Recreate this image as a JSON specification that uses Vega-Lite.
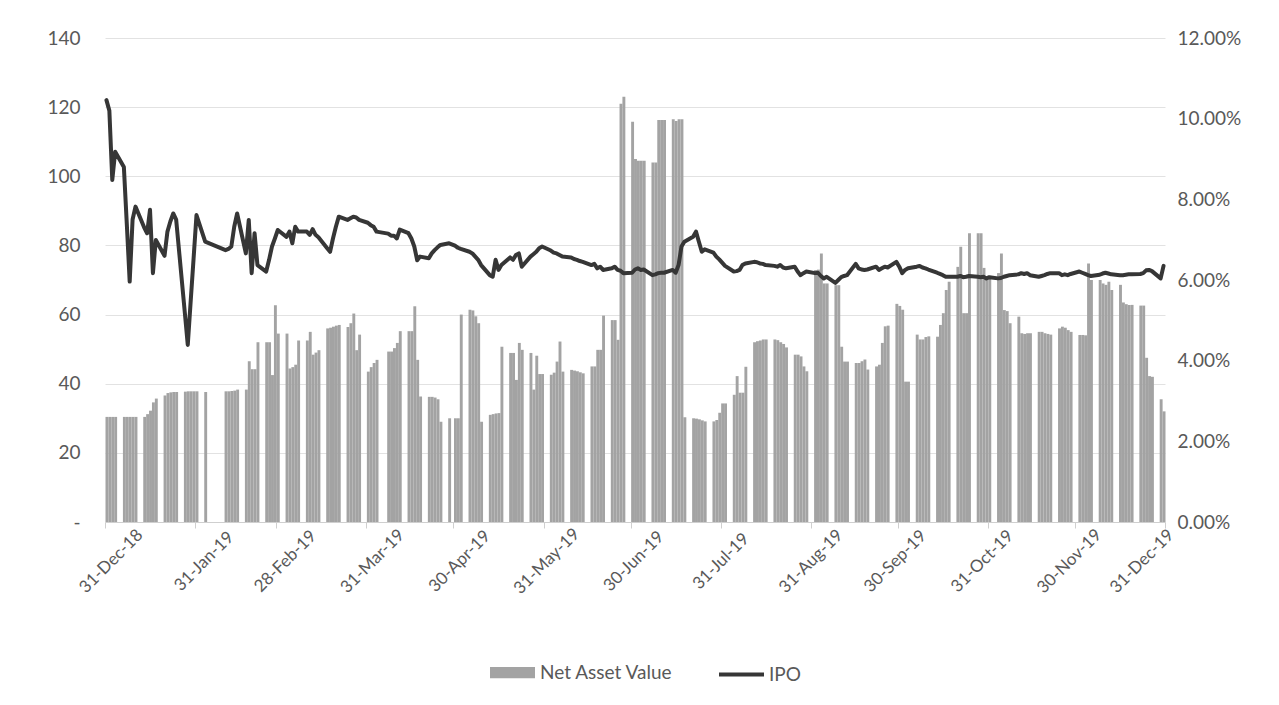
{
"$schema": "https://vega.github.io/schema/vega-lite/v6.json",
"width": 1060, "height": 484,
"autosize": {"type": "none"},
"padding": {"left": 105, "top": 38, "right": 114, "bottom": 183},
"background": "white",
"config": {"view": {"stroke": null}, "font": "Lato",
  "axis": {"labelFont": "Lato", "labelColor": "#595959", "titleFont": "Lato"},
  "legend": {"labelFont": "Lato", "labelColor": "#595959"}},
"data": {"values": [
{"d":"2019-01-01","v":30.4,"p":0.1046},{"d":"2019-01-02","v":30.4,"p":0.1020},{"d":"2019-01-03","v":30.4,"p":0.0848},{"d":"2019-01-04","v":30.4,"p":0.0918},
{"d":"2019-01-07","v":30.4,"p":0.0880},{"d":"2019-01-08","v":30.4,"p":0.0740},{"d":"2019-01-09","v":30.4,"p":0.0596},{"d":"2019-01-10","v":30.4,"p":0.0750},{"d":"2019-01-11","v":30.4,"p":0.0782},
{"d":"2019-01-14","v":30.4,"p":0.0730},{"d":"2019-01-15","v":31.2,"p":0.0716},{"d":"2019-01-16","v":32.2,"p":0.0774},{"d":"2019-01-17","v":34.6,"p":0.0617},{"d":"2019-01-18","v":35.7,"p":0.0699},
{"d":"2019-01-21","v":36.6,"p":0.0660},{"d":"2019-01-22","v":37.3,"p":0.0720},{"d":"2019-01-23","v":37.5,"p":0.0745},{"d":"2019-01-24","v":37.6,"p":0.0765},{"d":"2019-01-25","v":37.6,"p":0.0750},
{"d":"2019-01-28","v":37.7,"p":0.0518},{"d":"2019-01-29","v":37.8,"p":0.0439},{"d":"2019-01-30","v":37.8,"p":0.0547},{"d":"2019-01-31","v":37.8,"p":0.0653},{"d":"2019-02-01","v":37.8,"p":0.0761},
{"d":"2019-02-04","v":37.6,"p":0.0695},
{"d":"2019-02-11","v":37.8,"p":0.0674},{"d":"2019-02-12","v":37.8,"p":0.0677},{"d":"2019-02-13","v":37.9,"p":0.0683},{"d":"2019-02-14","v":38.0,"p":0.0732},{"d":"2019-02-15","v":38.3,"p":0.0765},
{"d":"2019-02-18","v":38.3,"p":0.0666},{"d":"2019-02-19","v":46.5,"p":0.0749},{"d":"2019-02-20","v":44.2,"p":0.0617},{"d":"2019-02-21","v":44.2,"p":0.0716},{"d":"2019-02-22","v":52.0,"p":0.0637},
{"d":"2019-02-25","v":52.0,"p":0.0621},{"d":"2019-02-26","v":52.0,"p":0.0650},{"d":"2019-02-27","v":42.5,"p":0.0683},{"d":"2019-02-28","v":62.7,"p":0.0703},{"d":"2019-03-01","v":54.5,"p":0.0724},
{"d":"2019-03-04","v":54.5,"p":0.0707},{"d":"2019-03-05","v":44.4,"p":0.0720},{"d":"2019-03-06","v":44.8,"p":0.0691},{"d":"2019-03-07","v":45.5,"p":0.0732},{"d":"2019-03-08","v":52.5,"p":0.0720},
{"d":"2019-03-11","v":52.5,"p":0.0720},{"d":"2019-03-12","v":55.0,"p":0.0712},{"d":"2019-03-13","v":48.4,"p":0.0726},{"d":"2019-03-14","v":49.0,"p":0.0712},{"d":"2019-03-15","v":49.7,"p":0.0706},
{"d":"2019-03-18","v":56.0,"p":0.0679},{"d":"2019-03-19","v":56.2,"p":0.0670},{"d":"2019-03-20","v":56.5,"p":0.0703},{"d":"2019-03-21","v":56.8,"p":0.0732},{"d":"2019-03-22","v":57.0,"p":0.0757},
{"d":"2019-03-25","v":56.4,"p":0.0749},{"d":"2019-03-26","v":57.5,"p":0.0753},{"d":"2019-03-27","v":60.3,"p":0.0757},{"d":"2019-03-28","v":49.7,"p":0.0755},{"d":"2019-03-29","v":54.2,"p":0.0749},
{"d":"2019-04-01","v":43.5,"p":0.0742},{"d":"2019-04-02","v":44.8,"p":0.0736},{"d":"2019-04-03","v":46.0,"p":0.0732},{"d":"2019-04-04","v":46.9,"p":0.0720},
{"d":"2019-04-08","v":49.3,"p":0.0715},{"d":"2019-04-09","v":49.3,"p":0.0710},{"d":"2019-04-10","v":50.3,"p":0.0710},{"d":"2019-04-11","v":51.8,"p":0.0703},{"d":"2019-04-12","v":55.2,"p":0.0725},
{"d":"2019-04-15","v":55.2,"p":0.0716},{"d":"2019-04-16","v":55.2,"p":0.0703},{"d":"2019-04-17","v":62.4,"p":0.0683},{"d":"2019-04-18","v":46.9,"p":0.0649},{"d":"2019-04-19","v":36.3,"p":0.0658},
{"d":"2019-04-22","v":36.2,"p":0.0654},{"d":"2019-04-23","v":36.2,"p":0.0666},{"d":"2019-04-24","v":36.0,"p":0.0674},{"d":"2019-04-25","v":35.5,"p":0.0681},{"d":"2019-04-26","v":29.0,"p":0.0687},
{"d":"2019-04-29","v":30.0,"p":0.0691},{"d":"2019-05-01","v":30.0,"p":0.0685},{"d":"2019-05-02","v":30.0,"p":0.0680},{"d":"2019-05-03","v":60.0,"p":0.0677},
{"d":"2019-05-06","v":61.4,"p":0.0670},{"d":"2019-05-07","v":61.2,"p":0.0666},{"d":"2019-05-08","v":59.5,"p":0.0658},{"d":"2019-05-09","v":57.5,"p":0.0650},{"d":"2019-05-10","v":29.0,"p":0.0637},
{"d":"2019-05-13","v":31.0,"p":0.0612},{"d":"2019-05-14","v":31.2,"p":0.0608},{"d":"2019-05-15","v":31.4,"p":0.0650},{"d":"2019-05-16","v":31.5,"p":0.0625},{"d":"2019-05-17","v":50.7,"p":0.0637},
{"d":"2019-05-20","v":48.9,"p":0.0656},{"d":"2019-05-21","v":48.9,"p":0.0650},{"d":"2019-05-22","v":41.1,"p":0.0662},{"d":"2019-05-23","v":51.8,"p":0.0666},{"d":"2019-05-24","v":49.8,"p":0.0633},
{"d":"2019-05-27","v":48.9,"p":0.0658},{"d":"2019-05-28","v":38.3,"p":0.0664},{"d":"2019-05-29","v":48.1,"p":0.0670},{"d":"2019-05-30","v":42.8,"p":0.0679},{"d":"2019-05-31","v":42.8,"p":0.0683},
{"d":"2019-06-03","v":42.6,"p":0.0673},{"d":"2019-06-04","v":43.2,"p":0.0668},{"d":"2019-06-05","v":46.4,"p":0.0666},{"d":"2019-06-06","v":52.2,"p":0.0662},{"d":"2019-06-07","v":43.5,"p":0.0658},
{"d":"2019-06-10","v":44.0,"p":0.0656},{"d":"2019-06-11","v":43.8,"p":0.0652},{"d":"2019-06-12","v":43.6,"p":0.0650},{"d":"2019-06-13","v":43.3,"p":0.0647},{"d":"2019-06-14","v":43.0,"p":0.0645},
{"d":"2019-06-17","v":45.0,"p":0.0637},{"d":"2019-06-18","v":45.0,"p":0.0640},{"d":"2019-06-19","v":49.8,"p":0.0629},{"d":"2019-06-20","v":49.8,"p":0.0633},{"d":"2019-06-21","v":59.7,"p":0.0625},
{"d":"2019-06-24","v":58.4,"p":0.0629},{"d":"2019-06-25","v":58.4,"p":0.0633},{"d":"2019-06-26","v":52.7,"p":0.0625},{"d":"2019-06-27","v":121.0,"p":0.0623},{"d":"2019-06-28","v":123.0,"p":0.0617},
{"d":"2019-07-01","v":115.8,"p":0.0618},{"d":"2019-07-02","v":105.0,"p":0.0626},{"d":"2019-07-03","v":104.5,"p":0.0629},{"d":"2019-07-04","v":104.5,"p":0.0625},{"d":"2019-07-05","v":104.5,"p":0.0626},
{"d":"2019-07-08","v":104.0,"p":0.0612},{"d":"2019-07-09","v":104.0,"p":0.0614},{"d":"2019-07-10","v":116.3,"p":0.0617},{"d":"2019-07-11","v":116.3,"p":0.0618},{"d":"2019-07-12","v":116.3,"p":0.0618},
{"d":"2019-07-15","v":116.5,"p":0.0625},{"d":"2019-07-16","v":116.0,"p":0.0618},{"d":"2019-07-17","v":116.5,"p":0.0637},{"d":"2019-07-18","v":116.5,"p":0.0683},{"d":"2019-07-19","v":30.3,"p":0.0695},
{"d":"2019-07-22","v":30.0,"p":0.0707},{"d":"2019-07-23","v":29.9,"p":0.0720},{"d":"2019-07-24","v":29.7,"p":0.0695},{"d":"2019-07-25","v":29.4,"p":0.0670},{"d":"2019-07-26","v":29.1,"p":0.0676},
{"d":"2019-07-29","v":29.1,"p":0.0668},{"d":"2019-07-30","v":29.5,"p":0.0658},{"d":"2019-07-31","v":31.6,"p":0.0651},{"d":"2019-08-01","v":34.3,"p":0.0643},{"d":"2019-08-02","v":34.3,"p":0.0635},
{"d":"2019-08-05","v":36.8,"p":0.0621},{"d":"2019-08-06","v":42.2,"p":0.0622},{"d":"2019-08-07","v":37.4,"p":0.0625},{"d":"2019-08-08","v":37.4,"p":0.0637},{"d":"2019-08-09","v":44.9,"p":0.0641},
{"d":"2019-08-12","v":52.0,"p":0.0645},{"d":"2019-08-13","v":52.3,"p":0.0644},{"d":"2019-08-14","v":52.5,"p":0.0641},{"d":"2019-08-15","v":52.8,"p":0.0640},{"d":"2019-08-16","v":52.8,"p":0.0637},
{"d":"2019-08-19","v":52.8,"p":0.0635},{"d":"2019-08-20","v":52.6,"p":0.0633},{"d":"2019-08-21","v":52.0,"p":0.0637},{"d":"2019-08-22","v":51.5,"p":0.0631},{"d":"2019-08-23","v":50.5,"p":0.0629},
{"d":"2019-08-26","v":48.4,"p":0.0633},{"d":"2019-08-27","v":48.4,"p":0.0621},{"d":"2019-08-28","v":47.9,"p":0.0612},{"d":"2019-08-29","v":45.0,"p":0.0617},{"d":"2019-08-30","v":43.6,"p":0.0621},
{"d":"2019-09-02","v":72.9,"p":0.0617},{"d":"2019-09-03","v":73.0,"p":0.0618},{"d":"2019-09-04","v":77.7,"p":0.0610},{"d":"2019-09-05","v":69.0,"p":0.0604},{"d":"2019-09-06","v":69.0,"p":0.0608},
{"d":"2019-09-09","v":68.5,"p":0.0593},{"d":"2019-09-10","v":68.5,"p":0.0600},{"d":"2019-09-11","v":50.7,"p":0.0607},{"d":"2019-09-12","v":46.4,"p":0.0610},{"d":"2019-09-13","v":46.4,"p":0.0612},
{"d":"2019-09-16","v":46.0,"p":0.0640},{"d":"2019-09-17","v":46.0,"p":0.0629},{"d":"2019-09-18","v":46.5,"p":0.0626},{"d":"2019-09-19","v":47.0,"p":0.0625},{"d":"2019-09-20","v":44.1,"p":0.0626},
{"d":"2019-09-23","v":45.0,"p":0.0633},{"d":"2019-09-24","v":45.5,"p":0.0625},{"d":"2019-09-25","v":51.8,"p":0.0629},{"d":"2019-09-26","v":56.6,"p":0.0633},{"d":"2019-09-27","v":56.8,"p":0.0631},
{"d":"2019-09-30","v":63.1,"p":0.0645},{"d":"2019-10-01","v":62.5,"p":0.0633},{"d":"2019-10-02","v":61.4,"p":0.0617},{"d":"2019-10-03","v":40.6,"p":0.0625},{"d":"2019-10-04","v":40.6,"p":0.0629},
{"d":"2019-10-07","v":54.2,"p":0.0633},{"d":"2019-10-08","v":52.8,"p":0.0635},{"d":"2019-10-09","v":52.8,"p":0.0631},{"d":"2019-10-10","v":53.5,"p":0.0629},{"d":"2019-10-11","v":53.7,"p":0.0626},
{"d":"2019-10-14","v":53.6,"p":0.0618},{"d":"2019-10-15","v":57.0,"p":0.0615},{"d":"2019-10-16","v":60.4,"p":0.0612},{"d":"2019-10-17","v":67.1,"p":0.0608},{"d":"2019-10-18","v":69.5,"p":0.0608},
{"d":"2019-10-21","v":73.8,"p":0.0608},{"d":"2019-10-22","v":79.6,"p":0.0610},{"d":"2019-10-23","v":60.4,"p":0.0607},{"d":"2019-10-24","v":60.4,"p":0.0608},{"d":"2019-10-25","v":83.5,"p":0.0610},
{"d":"2019-10-28","v":83.5,"p":0.0608},{"d":"2019-10-29","v":83.5,"p":0.0607},{"d":"2019-10-30","v":73.5,"p":0.0608},{"d":"2019-10-31","v":71.0,"p":0.0604},{"d":"2019-11-01","v":70.6,"p":0.0607},
{"d":"2019-11-04","v":72.0,"p":0.0604},{"d":"2019-11-05","v":77.7,"p":0.0605},{"d":"2019-11-06","v":61.3,"p":0.0608},{"d":"2019-11-07","v":61.0,"p":0.0610},{"d":"2019-11-08","v":57.5,"p":0.0612},
{"d":"2019-11-11","v":59.4,"p":0.0614},{"d":"2019-11-12","v":54.6,"p":0.0617},{"d":"2019-11-13","v":54.4,"p":0.0615},{"d":"2019-11-14","v":54.6,"p":0.0617},{"d":"2019-11-15","v":54.6,"p":0.0612},
{"d":"2019-11-18","v":55.0,"p":0.0608},{"d":"2019-11-19","v":55.0,"p":0.0610},{"d":"2019-11-20","v":54.6,"p":0.0612},{"d":"2019-11-21","v":54.4,"p":0.0615},{"d":"2019-11-22","v":54.2,"p":0.0617},
{"d":"2019-11-25","v":56.0,"p":0.0617},{"d":"2019-11-26","v":56.5,"p":0.0612},{"d":"2019-11-27","v":56.2,"p":0.0614},{"d":"2019-11-28","v":55.5,"p":0.0612},{"d":"2019-11-29","v":55.0,"p":0.0615},
{"d":"2019-12-02","v":54.1,"p":0.0621},{"d":"2019-12-03","v":54.1,"p":0.0618},{"d":"2019-12-04","v":54.0,"p":0.0615},{"d":"2019-12-05","v":74.8,"p":0.0612},{"d":"2019-12-06","v":70.0,"p":0.0610},
{"d":"2019-12-09","v":70.0,"p":0.0613},{"d":"2019-12-10","v":69.0,"p":0.0616},{"d":"2019-12-11","v":68.6,"p":0.0618},{"d":"2019-12-12","v":69.5,"p":0.0616},{"d":"2019-12-13","v":67.1,"p":0.0614},
{"d":"2019-12-16","v":68.6,"p":0.0612},{"d":"2019-12-17","v":63.5,"p":0.0612},{"d":"2019-12-18","v":63.0,"p":0.0613},{"d":"2019-12-19","v":62.8,"p":0.0614},{"d":"2019-12-20","v":62.8,"p":0.0614},
{"d":"2019-12-23","v":62.6,"p":0.0615},{"d":"2019-12-24","v":62.6,"p":0.0617},{"d":"2019-12-25","v":47.5,"p":0.0624},{"d":"2019-12-26","v":42.2,"p":0.0625},{"d":"2019-12-27","v":42.0,"p":0.0622},
{"d":"2019-12-30","v":35.5,"p":0.0604},{"d":"2019-12-31","v":32.0,"p":0.0635}
]},
"layer": [
 {"mark": {"type": "bar", "binSpacing": 0, "timeUnitBandSize": 1},
  "encoding": {
   "x": {"field": "d", "timeUnit": "utcyearmonthdate", "type": "temporal",
     "scale": {"domain": [{"year":2019,"month":1,"date":1,"utc":true},{"year":2020,"month":1,"date":1,"utc":true}], "nice": false},
     "axis": {"title": null, "orient": "bottom", "grid": false, "labels": false, "ticks": true, "tickSize": 6, "tickColor": "#cfcfcf", "domainColor": "#cfcfcf",
       "values": [{"year":2019,"month":1,"date":1,"utc":true},{"year":2019,"month":2,"date":1,"utc":true},{"year":2019,"month":3,"date":1,"utc":true},{"year":2019,"month":4,"date":1,"utc":true},{"year":2019,"month":5,"date":1,"utc":true},{"year":2019,"month":6,"date":1,"utc":true},{"year":2019,"month":7,"date":1,"utc":true},{"year":2019,"month":8,"date":1,"utc":true},{"year":2019,"month":9,"date":1,"utc":true},{"year":2019,"month":10,"date":1,"utc":true},{"year":2019,"month":11,"date":1,"utc":true},{"year":2019,"month":12,"date":1,"utc":true},{"year":2020,"month":1,"date":1,"utc":true}]}},
   "y": {"field": "v", "type": "quantitative", "scale": {"domain": [0, 140], "nice": false},
     "axis": {"title": null, "values": [0,20,40,60,80,100,120,140], "labelExpr": "datum.value == 0 ? '-' : datum.label", "grid": true, "gridColor": "#e2e2e2", "domain": false, "ticks": false, "labelPadding": 25, "labelFontSize": 19}},
   "fill": {"datum": "Net Asset Value", "scale": {"range": ["#a3a3a3"]},
     "legend": {"title": null, "orient": "none", "legendX": 385, "legendY": 612, "padding": 0, "symbolType": "M-1,-0.25H1V0.25H-1Z", "symbolSize": 2025, "symbolStrokeWidth": 0, "labelFontSize": 19, "labelOffset": 5}}
  }},
 {"mark": {"type": "line", "strokeWidth": 4, "strokeJoin": "round", "strokeCap": "round"},
  "encoding": {
   "x": {"field": "d", "timeUnit": "utcyearmonthdate", "type": "temporal", "bandPosition": 0.5,
     "axis": {"title": null, "orient": "bottom", "grid": false, "ticks": false, "domain": false,
       "values": [{"year":2019,"month":1,"date":3,"utc":true},{"year":2019,"month":2,"date":4,"utc":true},{"year":2019,"month":3,"date":4,"utc":true},{"year":2019,"month":4,"date":3,"utc":true},{"year":2019,"month":5,"date":3,"utc":true},{"year":2019,"month":6,"date":2,"utc":true},{"year":2019,"month":7,"date":2,"utc":true},{"year":2019,"month":8,"date":1,"utc":true},{"year":2019,"month":9,"date":1,"utc":true},{"year":2019,"month":9,"date":30,"utc":true},{"year":2019,"month":10,"date":30,"utc":true},{"year":2019,"month":11,"date":29,"utc":true},{"year":2019,"month":12,"date":24,"utc":true}],
       "labelExpr": "utcFormat(utc(utcyear(datum.value - 1296000000), utcmonth(datum.value - 1296000000) + 1, 0), '%d-%b-%y')",
       "labelAngle": -45, "labelAlign": "center", "labelBaseline": "middle", "labelPadding": 39,
       "labelFlush": false, "labelOverlap": false, "labelBound": false, "labelFontSize": 17}},
   "y": {"field": "p", "type": "quantitative", "scale": {"domain": [0, 0.12], "nice": false},
     "axis": {"title": null, "orient": "right", "values": [0,0.02,0.04,0.06,0.08,0.1,0.12], "format": ".2%", "grid": false, "domain": false, "ticks": false, "labelPadding": 12, "labelFontSize": 19}},
   "stroke": {"datum": "IPO", "scale": {"range": ["#363636"]},
     "legend": {"title": null, "orient": "none", "legendX": 612, "legendY": 612, "padding": 0, "symbolType": "stroke", "symbolSize": 2025, "symbolStrokeWidth": 4, "labelFontSize": 19, "labelOffset": 3}}
  }}
],
"resolve": {"scale": {"y": "independent"}, "axis": {"x": "independent"}}
}
